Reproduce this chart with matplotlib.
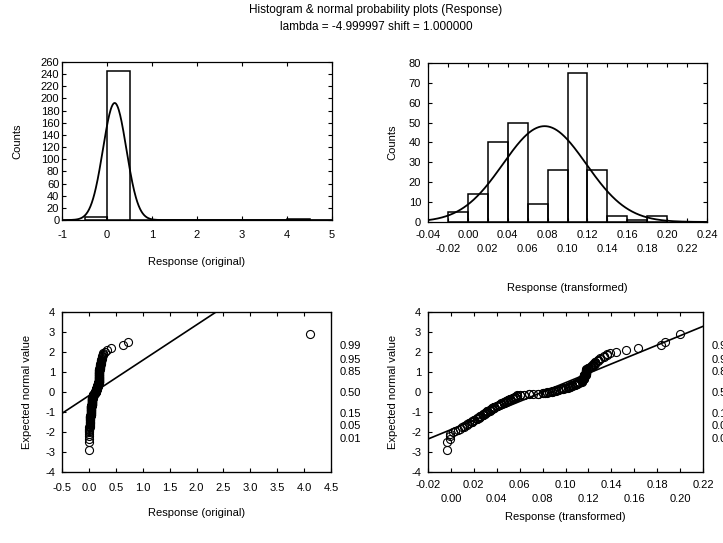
import numpy as np
import matplotlib
matplotlib.use("Agg")
import matplotlib.pyplot as plt
from statistics import NormalDist

plt.rcParams['font.family'] = ['Liberation Sans', 'DejaVu Sans']
plt.rcParams['axes.unicode_minus'] = False

# Box-Cox parameters shown in the title
lam = -4.999997
shift = 1.0

# Histogram of the original response
orig_edges = [-0.5, 0.0, 0.5, 1.0, 1.5, 2.0, 2.5, 3.0, 3.5, 4.0, 4.5]
orig_counts = [5, 245, 0, 0, 0, 0, 0, 0, 0, 1]
orig_fit_mean, orig_fit_sd = 0.17, 0.26

# Histogram of the transformed response
trans_edges = [-0.02, 0.00, 0.02, 0.04, 0.06, 0.08, 0.10, 0.12, 0.14, 0.16, 0.18, 0.20]
trans_counts = [5, 14, 40, 50, 9, 26, 75, 26, 3, 1, 3]
trans_fit_mean, trans_fit_sd = 0.077, 0.0417

# Response values (original scale), as distinct levels and how often each occurs
resp_levels = [
    -0.003, -0.001,
    0.002, 0.004, 0.006, 0.008, 0.010, 0.012, 0.015, 0.017, 0.019,
    0.021, 0.024, 0.026, 0.028, 0.031, 0.033, 0.035, 0.038, 0.040, 0.043,
    0.046, 0.048, 0.051, 0.054, 0.056, 0.059, 0.062, 0.065, 0.068, 0.071,
    0.074, 0.080, 0.087, 0.093, 0.100,
    0.108, 0.111, 0.115, 0.119, 0.123, 0.127, 0.131, 0.135, 0.140, 0.144,
    0.149, 0.153, 0.158, 0.163, 0.168, 0.173, 0.178, 0.184, 0.190, 0.195,
    0.201, 0.207, 0.214, 0.220, 0.227, 0.234, 0.245, 0.256, 0.268,
    0.290, 0.336, 0.401, 0.637, 0.727, 4.1,
]
resp_counts = [
    2, 3,
    1, 1, 1, 1, 1, 2, 2, 2, 3,
    2, 3, 3, 3, 4, 4, 5, 5, 5, 6,
    4, 4, 5, 5, 5, 5, 5, 5, 6, 6,
    2, 2, 2, 1, 2,
    2, 2, 2, 2, 3, 3, 3, 3, 3, 3,
    3, 4, 4, 5, 5, 5, 5, 12, 15, 17,
    4, 4, 4, 4, 3, 2, 2, 2, 1,
    1, 1, 1, 1, 1, 1,
]

# reference lines of the normal probability plots
orig_line_mean, orig_line_sd = 0.104, 0.565
trans_line_mean, trans_line_sd = 0.0802, 0.0426

# axis ticks
orig_hist_xticks = [-1, 0, 1, 2, 3, 4, 5]
orig_hist_yticks = list(range(0, 261, 20))
trans_hist_xticks = [-0.04, 0.00, 0.04, 0.08, 0.12, 0.16, 0.20, 0.24]
trans_hist_xticks2 = [-0.02, 0.02, 0.06, 0.10, 0.14, 0.18, 0.22]
trans_hist_yticks = [0, 10, 20, 30, 40, 50, 60, 70, 80]
orig_qq_xticks = [-0.5, 0.0, 0.5, 1.0, 1.5, 2.0, 2.5, 3.0, 3.5, 4.0, 4.5]
trans_qq_xticks = [-0.02, 0.02, 0.06, 0.10, 0.14, 0.18, 0.22]
trans_qq_xticks2 = [0.00, 0.04, 0.08, 0.12, 0.16, 0.20]
qq_yticks = [-4, -3, -2, -1, 0, 1, 2, 3, 4]
prob_labels = ['0.01', '0.05', '0.15', '0.50', '0.85', '0.95', '0.99']

# derived values
resp = np.sort(np.repeat(resp_levels, resp_counts))
resp_t = ((resp + shift) ** lam - 1) / lam
n = len(resp)
nd = NormalDist()
z_exp = np.array([nd.inv_cdf((i - 0.5) / n) for i in range(1, n + 1)])
prob_pos = [nd.inv_cdf(float(p)) for p in prob_labels]


def style(ax, ypad=5, xpad=6):
    ax.tick_params(which='both', direction='in', length=3, width=0.8, top=True, right=True, labelsize=8)
    ax.tick_params(axis='x', which='major', pad=xpad)
    ax.tick_params(axis='y', pad=ypad)
    for s in ax.spines.values():
        s.set_linewidth(0.9)


def two_rows(ax, first, second):
    ax.set_xticks(first)
    ax.set_xticklabels(['{:.2f}'.format(v) for v in first])
    ax.set_xticks(second, minor=True)
    ax.set_xticklabels(['{:.2f}'.format(v) for v in second], minor=True)
    ax.tick_params(axis='x', which='minor', pad=16, labelsize=8)


fig = plt.figure(figsize=(7.23, 5.43), dpi=100)
fig.text(0.52, 0.993, 'Histogram & normal probability plots (Response)', ha='center', va='top', fontsize=8.5)
fig.text(0.52, 0.962, 'lambda = -4.999997 shift = 1.000000', ha='center', va='top', fontsize=8.5)

# top left: histogram original
ax1 = fig.add_axes([0.0858, 0.5948, 0.3734, 0.2910])
w = orig_edges[1] - orig_edges[0]
ax1.bar(orig_edges[:-1], orig_counts, width=w, align='edge', fill=False, edgecolor='black', linewidth=1.1)
xs = np.linspace(-1, 5, 600)
amp = sum(orig_counts) * w / (orig_fit_sd * np.sqrt(2 * np.pi))
ax1.plot(xs, amp * np.exp(-0.5 * ((xs - orig_fit_mean) / orig_fit_sd) ** 2), color='black', lw=1.3)
ax1.set_xlim(-1, 5)
ax1.set_ylim(0, 260)
ax1.set_xticks(orig_hist_xticks)
ax1.set_yticks(orig_hist_yticks)
style(ax1, ypad=2, xpad=7)
ax1.set_xlabel('Response (original)', fontsize=8)
ax1.set_ylabel('Counts', fontsize=8)
ax1.xaxis.set_label_coords(0.5, -0.235)
ax1.yaxis.set_label_coords(-0.148, 0.5)

# top right: histogram transformed
ax2 = fig.add_axes([0.592, 0.5912, 0.3859, 0.2928])
w = trans_edges[1] - trans_edges[0]
ax2.bar(trans_edges[:-1], trans_counts, width=w, align='edge', fill=False, edgecolor='black', linewidth=1.1)
xs = np.linspace(-0.04, 0.24, 600)
amp = sum(trans_counts) * w / (trans_fit_sd * np.sqrt(2 * np.pi))
ax2.plot(xs, amp * np.exp(-0.5 * ((xs - trans_fit_mean) / trans_fit_sd) ** 2), color='black', lw=1.3)
ax2.set_xlim(-0.04, 0.24)
ax2.set_ylim(0, 80)
two_rows(ax2, trans_hist_xticks, trans_hist_xticks2)
ax2.set_yticks(trans_hist_yticks)
style(ax2)
ax2.set_xlabel('Response (transformed)', fontsize=8)
ax2.set_ylabel('Counts', fontsize=8)
ax2.xaxis.set_label_coords(0.5, -0.384)
ax2.yaxis.set_label_coords(-0.111, 0.5)

# bottom left: normal probability plot original
ax3 = fig.add_axes([0.0858, 0.1308, 0.3721, 0.2947])
ax3.plot(resp, z_exp, 'o', mfc='none', mec='black', ms=5.8, mew=0.8)
xs = np.array([-0.5, 4.5])
ax3.plot(xs, (xs - orig_line_mean) / orig_line_sd, color='black', lw=1.2)
ax3.set_xlim(-0.5, 4.5)
ax3.set_ylim(-4, 4)
ax3.set_xticks(orig_qq_xticks)
ax3.set_xticklabels(['{:.1f}'.format(v) for v in orig_qq_xticks])
ax3.set_yticks(qq_yticks)
style(ax3, xpad=8)
ax3.set_xlabel('Response (original)', fontsize=8)
ax3.set_ylabel('Expected normal value', fontsize=8)
ax3.xaxis.set_label_coords(0.5, -0.225)
ax3.yaxis.set_label_coords(-0.112, 0.5)
p3 = ax3.twinx()
p3.set_ylim(-4, 4)
p3.set_yticks(prob_pos)
p3.set_yticklabels(prob_labels)
p3.tick_params(axis='y', length=0, pad=6, labelsize=8)

# bottom right: normal probability plot transformed
ax4 = fig.add_axes([0.592, 0.1308, 0.3804, 0.2947])
ax4.plot(resp_t, z_exp, 'o', mfc='none', mec='black', ms=5.8, mew=0.8)
xs = np.array([-0.02, 0.22])
ax4.plot(xs, (xs - trans_line_mean) / trans_line_sd, color='black', lw=1.2)
ax4.set_xlim(-0.02, 0.22)
ax4.set_ylim(-4, 4)
two_rows(ax4, trans_qq_xticks, trans_qq_xticks2)
ax4.set_yticks(qq_yticks)
style(ax4)
ax4.set_xlabel('Response (transformed)', fontsize=8)
ax4.set_ylabel('Expected normal value', fontsize=8)
ax4.xaxis.set_label_coords(0.5, -0.25)
ax4.yaxis.set_label_coords(-0.109, 0.5)
p4 = ax4.twinx()
p4.set_ylim(-4, 4)
p4.set_yticks(prob_pos)
p4.set_yticklabels(prob_labels)
p4.tick_params(axis='y', length=0, pad=6, labelsize=8)

fig.savefig('out.png', dpi=100)
